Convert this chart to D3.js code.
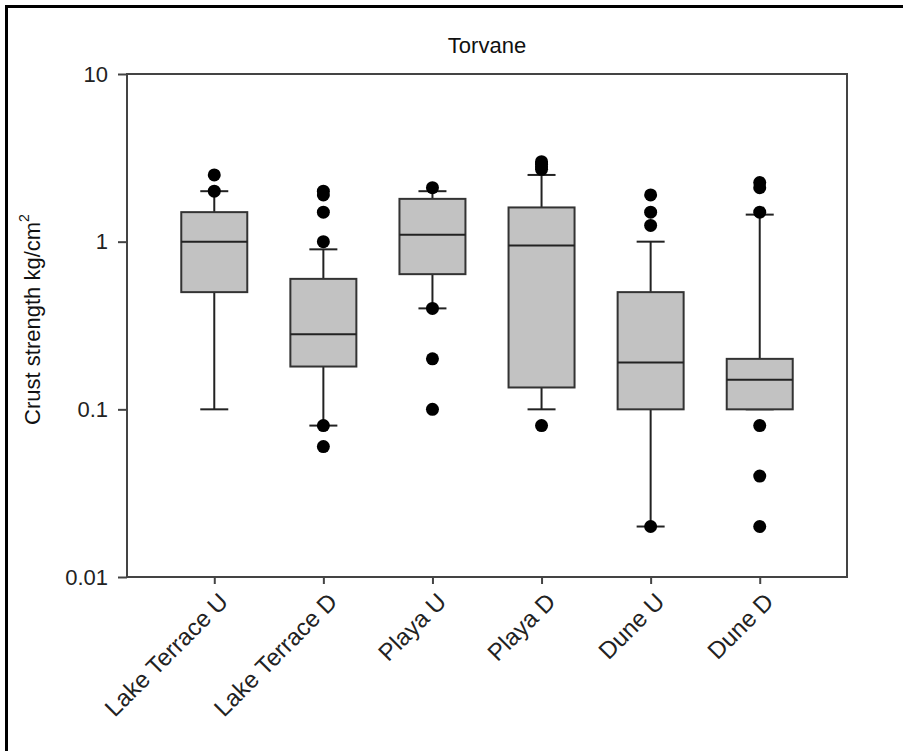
<!DOCTYPE html>
<html>
<head>
<meta charset="utf-8">
<script src="https://cdn.jsdelivr.net/npm/d3@7"></script>
<style>
  body { margin: 0; background: #fff; }
  svg { font-family: "Liberation Sans", Arial, sans-serif; }
  .axis path, .axis line { stroke: #444; stroke-width: 2; }
</style>
</head>
<body>
<div id="chart"></div>
<script>
// Box plot values (log scale)
var categories = ["Lake Terrace U", "Lake Terrace D", "Playa U", "Playa D", "Dune U", "Dune D"];
var q1 = [0.5, 0.18, 0.64, 0.135, 0.1, 0.1];
var median = [1.0, 0.28, 1.1, 0.95, 0.19, 0.15];
var q3 = [1.5, 0.6, 1.8, 1.6, 0.5, 0.2];
var whiskerLow = [0.1, 0.08, 0.4, 0.1, 0.02, 0.1];
var whiskerHigh = [2.0, 0.9, 2.0, 2.5, 1.0, 1.45];
var outliers = [
  [2.5, 2.0],
  [2.0, 1.9, 1.5, 1.0, 0.08, 0.06],
  [2.1, 0.4, 0.2, 0.1],
  [3.0, 2.9, 2.8, 2.7, 0.08],
  [1.9, 1.5, 1.25, 0.02],
  [2.25, 2.1, 1.5, 0.08, 0.04, 0.02]
];
var yTicks = [0.01, 0.1, 1, 10];
var yTickLabels = ["0.01", "0.1", "1", "10"];

var W = 903, H = 751;
var margin = {top: 74, right: 56, bottom: 174, left: 127};
var width = W - margin.left - margin.right;
var height = H - margin.top - margin.bottom;

var svg = d3.select("#chart").append("svg")
  .attr("width", W)
  .attr("height", H);

// Outer frame (open on the right and bottom, as in the picture)
svg.append("rect")
  .attr("x", 6.5).attr("y", 6.5)
  .attr("width", 1200).attr("height", 1200)
  .attr("fill", "none")
  .attr("stroke", "#000")
  .attr("stroke-width", 3);

var g = svg.append("g")
  .attr("transform", "translate(" + margin.left + "," + margin.top + ")");

var x = d3.scalePoint().domain(categories).range([0, width]).padding(0.8);
var y = d3.scaleLog().domain([0.01, 10]).range([height, 0]);

// Title
svg.append("text")
  .attr("x", margin.left + width / 2)
  .attr("y", 53)
  .attr("text-anchor", "middle")
  .attr("font-size", 22)
  .attr("fill", "#111")
  .text("Torvane");

// Plot frame
g.append("rect")
  .attr("width", width).attr("height", height)
  .attr("fill", "none")
  .attr("stroke", "#444")
  .attr("stroke-width", 2);

// Y axis
var yAxis = g.append("g")
  .attr("class", "axis")
  .call(d3.axisLeft(y).tickValues(yTicks)
    .tickFormat(function(d, i) { return yTickLabels[i]; })
    .tickSize(9).tickSizeOuter(0).tickPadding(10));
yAxis.select(".domain").remove();
yAxis.selectAll("text")
  .attr("font-size", 22)
  .attr("font-family", "'Liberation Sans', Arial, sans-serif")
  .attr("fill", "#222");

// X axis
var xAxis = g.append("g")
  .attr("class", "axis")
  .attr("transform", "translate(0," + height + ")")
  .call(d3.axisBottom(x).tickSize(7).tickSizeOuter(0).tickPadding(6));
xAxis.select(".domain").remove();
xAxis.selectAll("text")
  .attr("font-size", 24)
  .attr("font-family", "'Liberation Sans', Arial, sans-serif")
  .attr("fill", "#222")
  .attr("text-anchor", "end")
  .attr("dx", "-8")
  .attr("dy", "16")
  .attr("transform", "rotate(-45)");

// Y axis title
var yTitle = svg.append("text")
  .attr("transform", "translate(40," + (margin.top + height / 2 - 6) + ") rotate(-90)")
  .attr("text-anchor", "middle")
  .attr("font-size", 22)
  .attr("fill", "#111");
yTitle.append("tspan").text("Crust strength kg/cm");
yTitle.append("tspan").attr("font-size", 14).attr("dy", "-0.8em").text("2");

// Boxes
var boxW = 66, capW = 28, r = 6.5;
var rows = categories.map(function(c, i) {
  return {cat: c, q1: q1[i], med: median[i], q3: q3[i], lo: whiskerLow[i], hi: whiskerHigh[i], out: outliers[i]};
});

var box = g.selectAll(".box").data(rows).enter().append("g")
  .attr("class", "box")
  .attr("transform", function(d) { return "translate(" + x(d.cat) + ",0)"; });

var lineStyle = function(sel) {
  return sel.attr("stroke", "#222").attr("stroke-width", 2);
};

// whiskers
box.append("line").call(lineStyle)
  .attr("y1", function(d) { return y(d.q3); })
  .attr("y2", function(d) { return y(d.hi); });
box.append("line").call(lineStyle)
  .attr("y1", function(d) { return y(d.q1); })
  .attr("y2", function(d) { return y(d.lo); });
box.append("line").call(lineStyle)
  .attr("x1", -capW / 2).attr("x2", capW / 2)
  .attr("y1", function(d) { return y(d.hi); })
  .attr("y2", function(d) { return y(d.hi); });
box.append("line").call(lineStyle)
  .attr("x1", -capW / 2).attr("x2", capW / 2)
  .attr("y1", function(d) { return y(d.lo); })
  .attr("y2", function(d) { return y(d.lo); });

box.append("rect")
  .attr("x", -boxW / 2)
  .attr("width", boxW)
  .attr("y", function(d) { return y(d.q3); })
  .attr("height", function(d) { return y(d.q1) - y(d.q3); })
  .attr("fill", "#c2c2c2")
  .attr("stroke", "#333")
  .attr("stroke-width", 2);

box.append("line").call(lineStyle)
  .attr("x1", -boxW / 2).attr("x2", boxW / 2)
  .attr("y1", function(d) { return y(d.med); })
  .attr("y2", function(d) { return y(d.med); });

box.selectAll("circle")
  .data(function(d) { return d.out; })
  .enter().append("circle")
  .attr("cy", function(v) { return y(v); })
  .attr("r", r)
  .attr("fill", "#000");
</script>
</body>
</html>
